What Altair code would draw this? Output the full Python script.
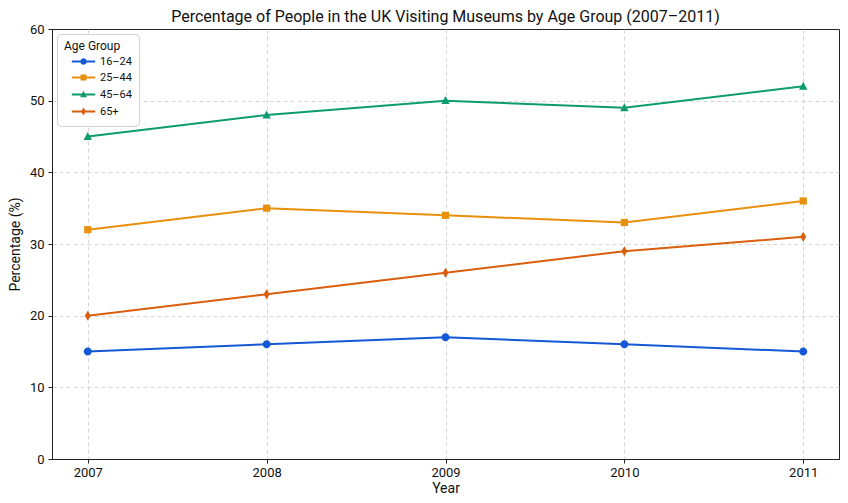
import altair as alt
import pandas as pd

years = [2007, 2008, 2009, 2010, 2011]
groups = ["16–24", "25–44", "45–64", "65+"]
v_16_24 = [15, 16, 17, 16, 15]
v_25_44 = [32, 35, 34, 33, 36]
v_45_64 = [45, 48, 50, 49, 52]
v_65 = [20, 23, 26, 29, 31]
colors = ["#1558d6", "#e8900c", "#0e9c6e", "#d95f0e"]

series = [v_16_24, v_25_44, v_45_64, v_65]
rows = []
for g, vals in zip(groups, series):
    for y, v in zip(years, vals):
        rows.append({"Year": y, "Percentage": v, "Age Group": g})
df = pd.DataFrame(rows)

# marker shapes (unit paths)
circle = "M-1,0A1,1 0 1,1 1,0A1,1 0 1,1 -1,0Z"
square = "M-0.9,-0.9H0.9V0.9H-0.9Z"
tri = "M0,-1.15L1.05,0.85L-1.05,0.85Z"
diam = "M0,-1.25L0.75,0L0,1.25L-0.75,0Z"
bar = "M-3.6,-0.3H3.6V0.3H-3.6Z "
marker_paths = [circle, square, tri, diam]
legend_paths = [bar + p for p in marker_paths]

FONT = "Roboto"

x_enc = alt.X("Year:Q", scale=alt.Scale(domain=[2006.8, 2011.2], nice=False, zero=False),
              axis=alt.Axis(values=years, format="d", title="Year"))
y_enc = alt.Y("Percentage:Q", scale=alt.Scale(domain=[0, 60], nice=False),
              axis=alt.Axis(values=[0, 10, 20, 30, 40, 50, 60], title="Percentage (%)",
                            gridOpacity={"condition": {"test": "datum.value >= 60 || datum.value <= 0",
                                                       "value": 0}, "value": 1}))
color_scale = alt.Scale(domain=groups, range=colors)

base = alt.Chart(df)

lines = base.mark_line(strokeWidth=2).encode(
    x=x_enc, y=y_enc,
    color=alt.Color("Age Group:N", scale=color_scale, legend=None),
    detail="Age Group:N",
)

points = base.mark_point(filled=True, opacity=1, size=64).encode(
    x=x_enc, y=y_enc,
    color=alt.Color("Age Group:N", scale=color_scale, legend=None),
    shape=alt.Shape("Age Group:N", scale=alt.Scale(domain=groups, range=marker_paths), legend=None),
)

legend_layer = base.transform_filter("false").mark_point(filled=True, opacity=1, size=64).encode(
    x=x_enc, y=y_enc,
    fill=alt.Fill("Age Group:N", scale=alt.Scale(domain=groups, range=colors),
                  legend=alt.Legend(title="Age Group")),
    shape=alt.Shape("Age Group:N", scale=alt.Scale(domain=groups, range=legend_paths),
                    legend=alt.Legend(title="Age Group")),
)

chart = alt.layer(lines, points, legend_layer).resolve_scale(
    shape="independent", fill="independent"
).properties(
    width=787, height=430,
    title=alt.TitleParams("Percentage of People in the UK Visiting Museums by Age Group (2007–2011)",
                          fontSize=16, font=FONT, fontWeight="normal", color="#111", offset=8, dy=10),
    autosize=alt.AutoSizeParams(type="none"),
    padding={"left": 44, "top": 21, "right": 1, "bottom": 36},
).configure_view(
    stroke="#222", strokeWidth=1
).configure_axis(
    labelFont=FONT, titleFont=FONT, labelFontSize=13, titleFontSize=14,
    titleFontWeight="normal", labelColor="#111", titleColor="#111",
    domainColor="#222", tickColor="#222", tickSize=4,
    grid=True, gridColor="#cccccc", gridDash=[4, 3], gridWidth=0.8,
).configure_axisX(titlePadding=2, labelPadding=3).configure_axisY(titlePadding=7, labelPadding=4).configure_legend(
    orient="top-left", offset=5, padding=7, cornerRadius=4,
    strokeColor="#d0d0d0", fillColor="white",
    titleFont=FONT, labelFont=FONT, titleFontSize=12, labelFontSize=11,
    titleFontWeight="normal", labelColor="#111", titleColor="#111", titlePadding=3,
    symbolSize=42, symbolOffset=14, labelOffset=11, rowPadding=3,
)

chart.save("out.html", embed_options={"renderer": "svg", "actions": False})
